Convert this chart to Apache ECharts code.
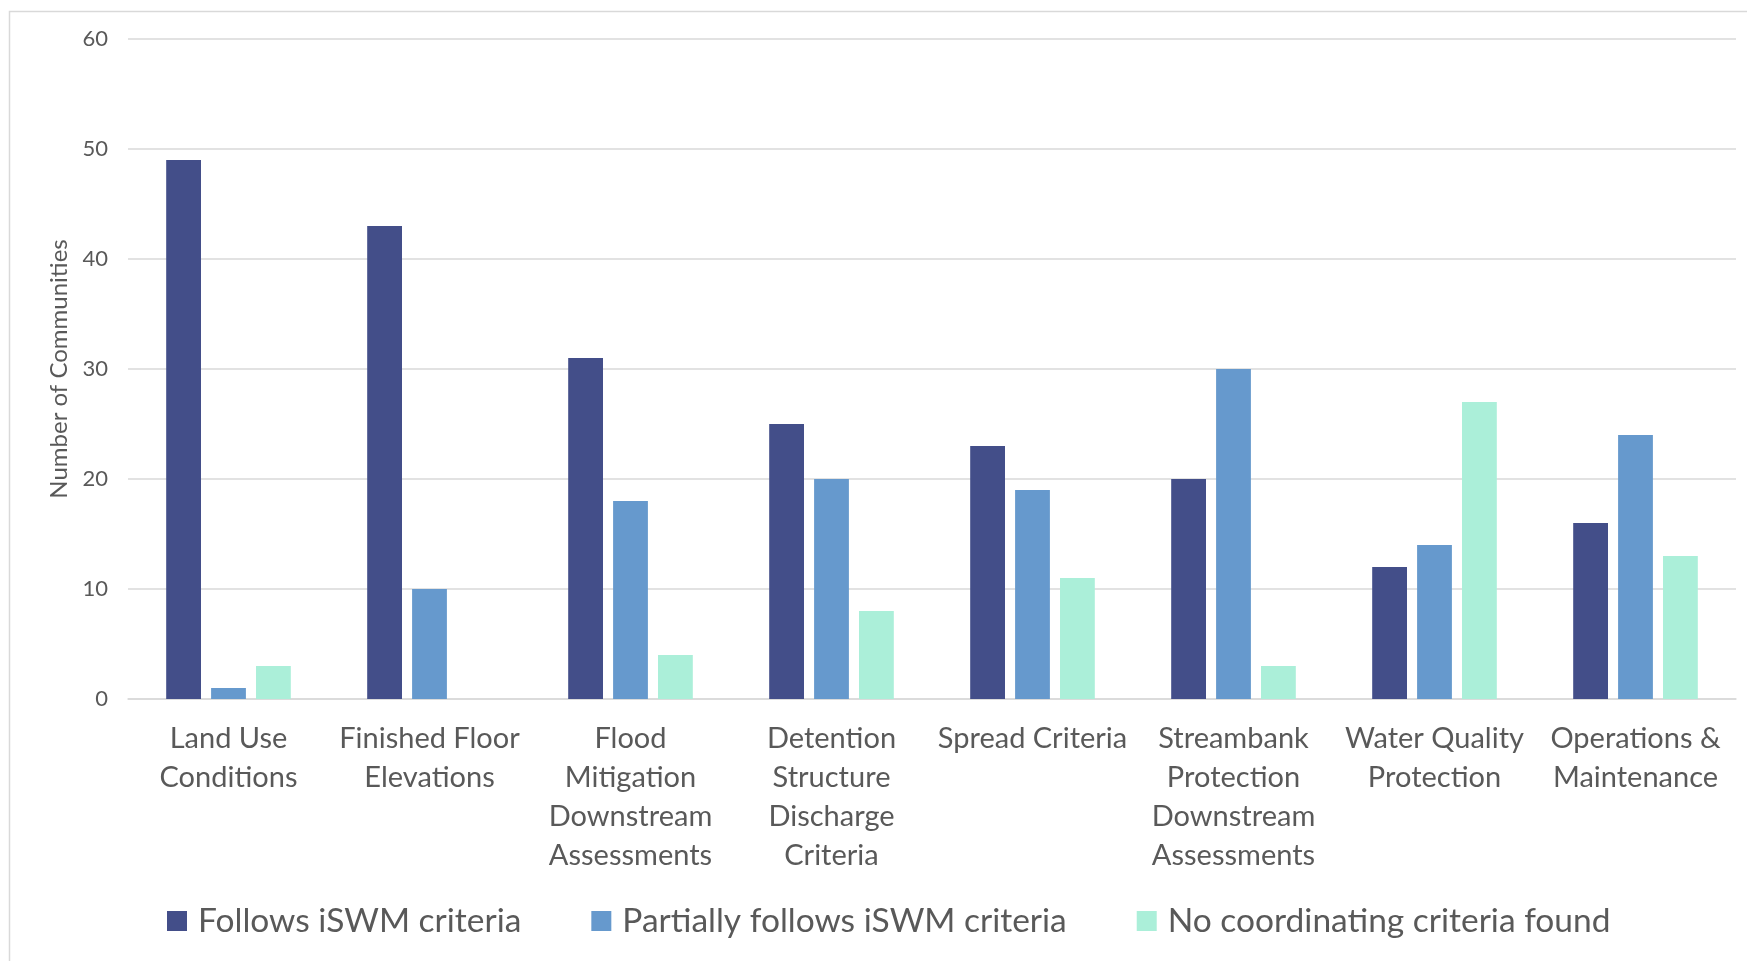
<!DOCTYPE html>
<html>
<head>
<meta charset="utf-8">
<script src="https://cdn.jsdelivr.net/npm/echarts@6/dist/echarts.min.js"></script>
<style>
html,body{margin:0;padding:0;background:#fff;}
#c{width:1747px;height:961px;}
</style>
</head>
<body>
<div id="c"></div>
<script>
const categories = [
  "Land Use\nConditions",
  "Finished Floor\nElevations",
  "Flood\nMitigation\nDownstream\nAssessments",
  "Detention\nStructure\nDischarge\nCriteria",
  "Spread Criteria",
  "Streambank\nProtection\nDownstream\nAssessments",
  "Water Quality\nProtection",
  "Operations &\nMaintenance"
];
const seriesNames = ["Follows iSWM criteria", "Partially follows iSWM criteria", "No coordinating criteria found"];
const follows = [49, 43, 31, 25, 23, 20, 12, 16];
const partially = [1, 10, 18, 20, 19, 30, 14, 24];
const noCriteria = [3, 0, 4, 8, 11, 3, 27, 13];
const yTicks = [0, 10, 20, 30, 40, 50, 60];

const colors = ["#434E89", "#6699CD", "#ABEFD9"];
const font = "Lato, 'Open Sans', sans-serif";
const textColor = "#595959";

const chart = echarts.init(document.getElementById('c'), null, {renderer: 'canvas'});
chart.setOption({
  animation: false,
  backgroundColor: '#fff',
  color: colors,
  graphic: [{
    type: 'rect',
    shape: {x: 9.5, y: 11.5, width: 1800, height: 1000},
    style: {fill: 'none', stroke: '#D9D9D9', lineWidth: 1.5},
    silent: true
  }],
  grid: {left: 128, right: 11, top: 39, bottom: 262, containLabel: false},
  legend: {
    data: seriesNames,
    left: 167,
    top: 904,
    padding: 0,
    itemWidth: 20,
    itemHeight: 20,
    itemGap: 70,
    icon: 'rect',
    textStyle: {fontSize: 33.5, color: textColor, fontFamily: font, padding: [0, 0, 0, 6]}
  },
  xAxis: {
    type: 'category',
    data: categories,
    axisLine: {show: true, lineStyle: {color: '#D9D9D9', width: 1.5}},
    axisTick: {show: false},
    axisLabel: {
      interval: 0,
      margin: 20,
      fontSize: 29,
      lineHeight: 39,
      color: textColor,
      fontFamily: font
    }
  },
  yAxis: {
    type: 'value',
    min: yTicks[0],
    max: yTicks[yTicks.length - 1],
    interval: 10,
    name: 'Number of Communities',
    nameLocation: 'middle',
    nameGap: 57,
    nameTextStyle: {fontSize: 24, color: textColor, fontFamily: font},
    axisLine: {show: false},
    axisTick: {show: false},
    axisLabel: {fontSize: 22, color: textColor, fontFamily: font, margin: 20},
    splitLine: {lineStyle: {color: '#D9D9D9', width: 1.5}}
  },
  series: [
    {name: seriesNames[0], type: 'bar', data: follows, barGap: '29%', barCategoryGap: '38%'},
    {name: seriesNames[1], type: 'bar', data: partially, barGap: '29%', barCategoryGap: '38%'},
    {name: seriesNames[2], type: 'bar', data: noCriteria, barGap: '29%', barCategoryGap: '38%'}
  ]
});
</script>
</body>
</html>
